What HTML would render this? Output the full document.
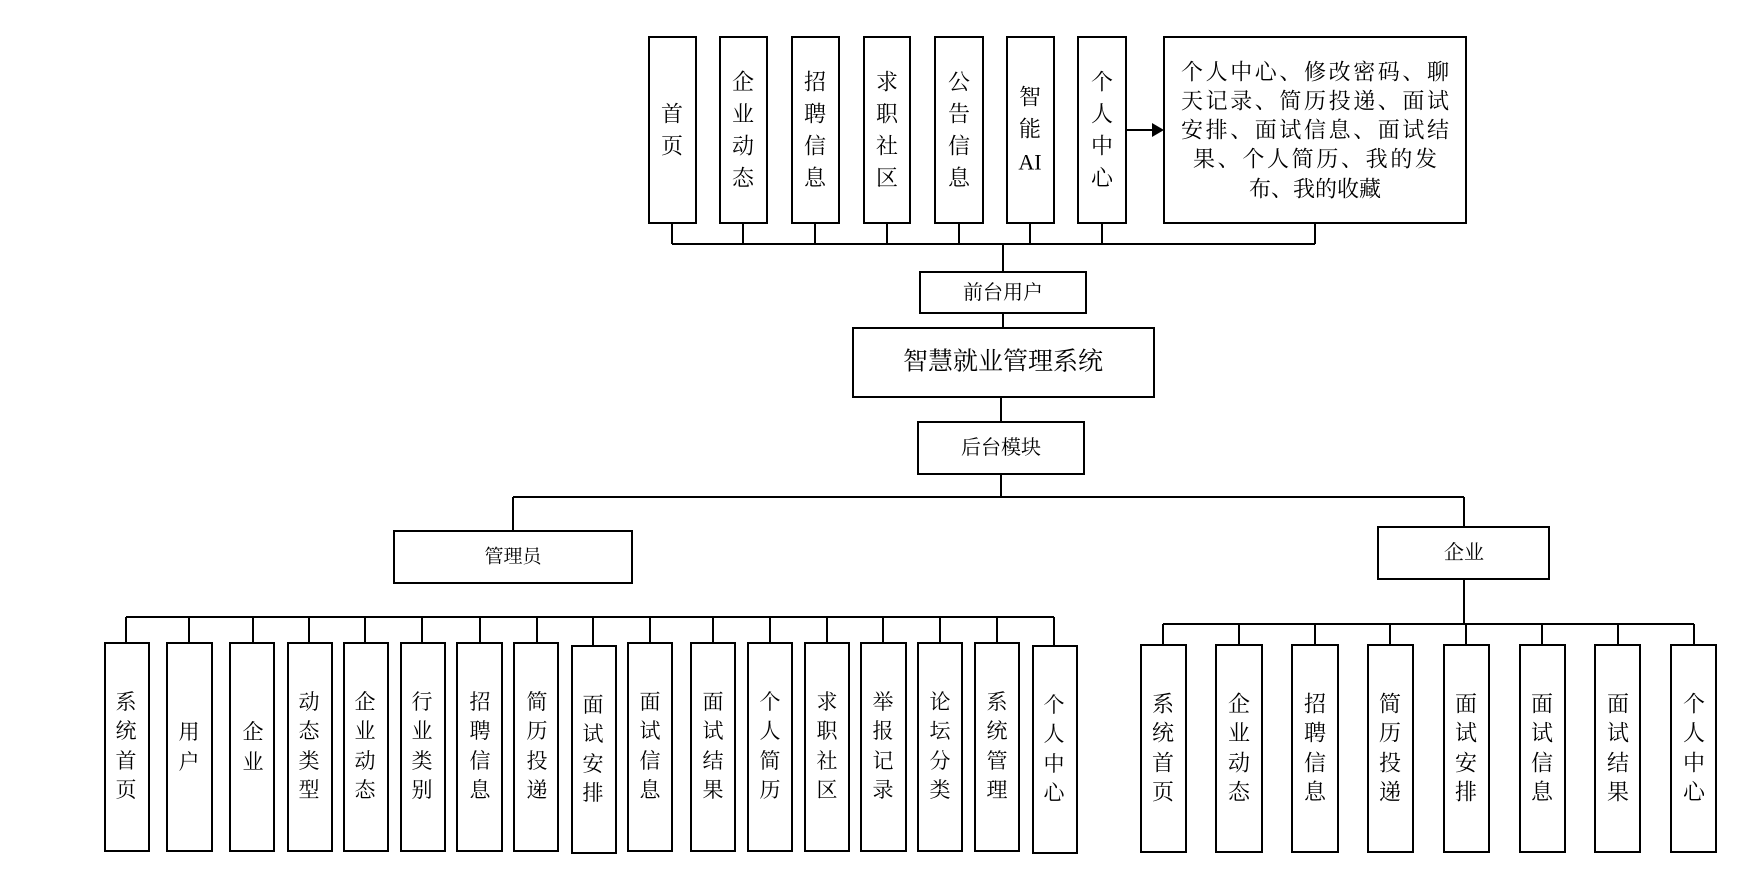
<!DOCTYPE html>
<html><head><meta charset="utf-8"><style>
html,body{margin:0;padding:0;background:#fff;}
svg text{font-family:"Liberation Serif","Noto Serif CJK SC","Noto Sans CJK SC",serif;fill:#000;}
</style></head><body>
<svg width="1759" height="875" viewBox="0 0 1759 875" xmlns="http://www.w3.org/2000/svg">
<g fill="#fff" stroke="#000" stroke-width="2">
<!-- top boxes -->
<rect x="649" y="37" width="47" height="186"/>
<rect x="720" y="37" width="47" height="186"/>
<rect x="792" y="37" width="47" height="186"/>
<rect x="864" y="37" width="46" height="186"/>
<rect x="935" y="37" width="48" height="186"/>
<rect x="1007" y="37" width="47" height="186"/>
<rect x="1078" y="37" width="48" height="186"/>
<rect x="1164" y="37" width="302" height="186"/>
<rect x="920" y="272" width="166" height="41"/>
<rect x="853" y="328" width="301" height="69"/>
<rect x="918" y="422" width="166" height="52"/>
<rect x="394" y="531" width="238" height="52"/>
<rect x="1378" y="527" width="171" height="52"/>
</g>
<g fill="none" stroke="#000" stroke-width="2">
<!-- top bus -->
<path d="M672 223V244M743 223V244M815 223V244M887 223V244M959 223V244M1030 223V244M1102 223V244M1315 223V244M672 244H1315"/>
<path d="M1003 244V272M1003 313V328M1001 397V422M1001 474V497"/>
<path d="M1126 130H1152"/>
<path d="M513 497H1464M513 497V531M1464 497V527"/>
<path d="M1464 579V624M1163 624H1694"/>
<path d="M126 617H1054"/>
<path d="M126 617V643M189 617V643M253 617V643M309 617V643M365 617V643M422 617V643M480 617V643M537 617V643M593 617V646M650 617V643M713 617V643M770 617V643M827 617V643M883 617V643M940 617V643M997 617V643M1054 617V646"/>
<path d="M1163 624V645M1239 624V645M1315 624V645M1390 624V645M1466 624V645M1542 624V645M1618 624V645M1694 624V645"/>
</g>
<polygon points="1152,123 1164,130 1152,137" fill="#000"/>
<g fill="#fff" stroke="#000" stroke-width="2">
<rect x="105" y="643" width="44" height="208"/>
<rect x="167" y="643" width="45" height="208"/>
<rect x="230" y="643" width="44" height="208"/>
<rect x="288" y="643" width="44" height="208"/>
<rect x="344" y="643" width="44" height="208"/>
<rect x="401" y="643" width="44" height="208"/>
<rect x="457" y="643" width="45" height="208"/>
<rect x="514" y="643" width="44" height="208"/>
<rect x="572" y="646" width="44" height="207"/>
<rect x="628" y="643" width="44" height="208"/>
<rect x="691" y="643" width="44" height="208"/>
<rect x="748" y="643" width="44" height="208"/>
<rect x="805" y="643" width="44" height="208"/>
<rect x="861" y="643" width="45" height="208"/>
<rect x="918" y="643" width="44" height="208"/>
<rect x="975" y="643" width="44" height="208"/>
<rect x="1033" y="646" width="44" height="207"/>
<rect x="1141" y="645" width="45" height="207"/>
<rect x="1216" y="645" width="46" height="207"/>
<rect x="1292" y="645" width="46" height="207"/>
<rect x="1368" y="645" width="45" height="207"/>
<rect x="1444" y="645" width="45" height="207"/>
<rect x="1520" y="645" width="45" height="207"/>
<rect x="1595" y="645" width="45" height="207"/>
<rect x="1671" y="645" width="45" height="207"/>
</g>
<g text-anchor="middle" dominant-baseline="central" font-size="22">
<text x="672" y="114">首</text><text x="672" y="146">页</text>
<text x="743" y="82">企</text><text x="743" y="114">业</text><text x="743" y="146">动</text><text x="743" y="178">态</text>
<text x="815" y="82">招</text><text x="815" y="114">聘</text><text x="815" y="146">信</text><text x="815" y="178">息</text>
<text x="887" y="82">求</text><text x="887" y="114">职</text><text x="887" y="146">社</text><text x="887" y="178">区</text>
<text x="959" y="82">公</text><text x="959" y="114">告</text><text x="959" y="146">信</text><text x="959" y="178">息</text>
<text x="1030" y="97">智</text><text x="1030" y="129">能</text><text x="1030" y="162">AI</text>
<text x="1102" y="82">个</text><text x="1102" y="114">人</text><text x="1102" y="146">中</text><text x="1102" y="178">心</text>
</g>
<g text-anchor="middle" dominant-baseline="central" font-size="22">
<text x="1315" y="72" textLength="268">个人中心、修改密码、聊</text>
<text x="1315" y="101" textLength="268">天记录、简历投递、面试</text>
<text x="1315" y="130" textLength="268">安排、面试信息、面试结</text>
<text x="1315" y="159" textLength="244">果、个人简历、我的发</text>
<text x="1315" y="189">布、我的收藏</text>
<text x="1003" y="293" font-size="20">前台用户</text>
<text x="1003" y="362" font-size="25">智慧就业管理系统</text>
<text x="1001" y="448" font-size="20">后台模块</text>
<text x="513" y="557" font-size="19">管理员</text>
<text x="1464" y="553" font-size="20">企业</text>
</g>
<g text-anchor="middle" dominant-baseline="central" font-size="21">
<text x="126" y="702">系</text><text x="126" y="731">统</text><text x="126" y="761">首</text><text x="126" y="790">页</text>
<text x="189" y="732">用</text><text x="189" y="762">户</text>
<text x="253" y="732">企</text><text x="253" y="762">业</text>
<text x="309" y="702">动</text><text x="309" y="731">态</text><text x="309" y="761">类</text><text x="309" y="790">型</text>
<text x="365" y="702">企</text><text x="365" y="731">业</text><text x="365" y="761">动</text><text x="365" y="790">态</text>
<text x="422" y="702">行</text><text x="422" y="731">业</text><text x="422" y="761">类</text><text x="422" y="790">别</text>
<text x="480" y="702">招</text><text x="480" y="731">聘</text><text x="480" y="761">信</text><text x="480" y="790">息</text>
<text x="537" y="702">简</text><text x="537" y="731">历</text><text x="537" y="761">投</text><text x="537" y="790">递</text>
<text x="593" y="705">面</text><text x="593" y="734">试</text><text x="593" y="764">安</text><text x="593" y="793">排</text>
<text x="650" y="702">面</text><text x="650" y="731">试</text><text x="650" y="761">信</text><text x="650" y="790">息</text>
<text x="713" y="702">面</text><text x="713" y="731">试</text><text x="713" y="761">结</text><text x="713" y="790">果</text>
<text x="770" y="702">个</text><text x="770" y="731">人</text><text x="770" y="761">简</text><text x="770" y="790">历</text>
<text x="827" y="702">求</text><text x="827" y="731">职</text><text x="827" y="761">社</text><text x="827" y="790">区</text>
<text x="883" y="702">举</text><text x="883" y="731">报</text><text x="883" y="761">记</text><text x="883" y="790">录</text>
<text x="940" y="702">论</text><text x="940" y="731">坛</text><text x="940" y="761">分</text><text x="940" y="790">类</text>
<text x="997" y="702">系</text><text x="997" y="731">统</text><text x="997" y="761">管</text><text x="997" y="790">理</text>
<text x="1054" y="705">个</text><text x="1054" y="734">人</text><text x="1054" y="764">中</text><text x="1054" y="793">心</text>
</g>
<g text-anchor="middle" dominant-baseline="central" font-size="22">
<text x="1163" y="704">系</text><text x="1163" y="733">统</text><text x="1163" y="763">首</text><text x="1163" y="792">页</text>
<text x="1239" y="704">企</text><text x="1239" y="733">业</text><text x="1239" y="763">动</text><text x="1239" y="792">态</text>
<text x="1315" y="704">招</text><text x="1315" y="733">聘</text><text x="1315" y="763">信</text><text x="1315" y="792">息</text>
<text x="1390" y="704">简</text><text x="1390" y="733">历</text><text x="1390" y="763">投</text><text x="1390" y="792">递</text>
<text x="1466" y="704">面</text><text x="1466" y="733">试</text><text x="1466" y="763">安</text><text x="1466" y="792">排</text>
<text x="1542" y="704">面</text><text x="1542" y="733">试</text><text x="1542" y="763">信</text><text x="1542" y="792">息</text>
<text x="1618" y="704">面</text><text x="1618" y="733">试</text><text x="1618" y="763">结</text><text x="1618" y="792">果</text>
<text x="1694" y="704">个</text><text x="1694" y="733">人</text><text x="1694" y="763">中</text><text x="1694" y="792">心</text>
</g>
</svg>
</body></html>
